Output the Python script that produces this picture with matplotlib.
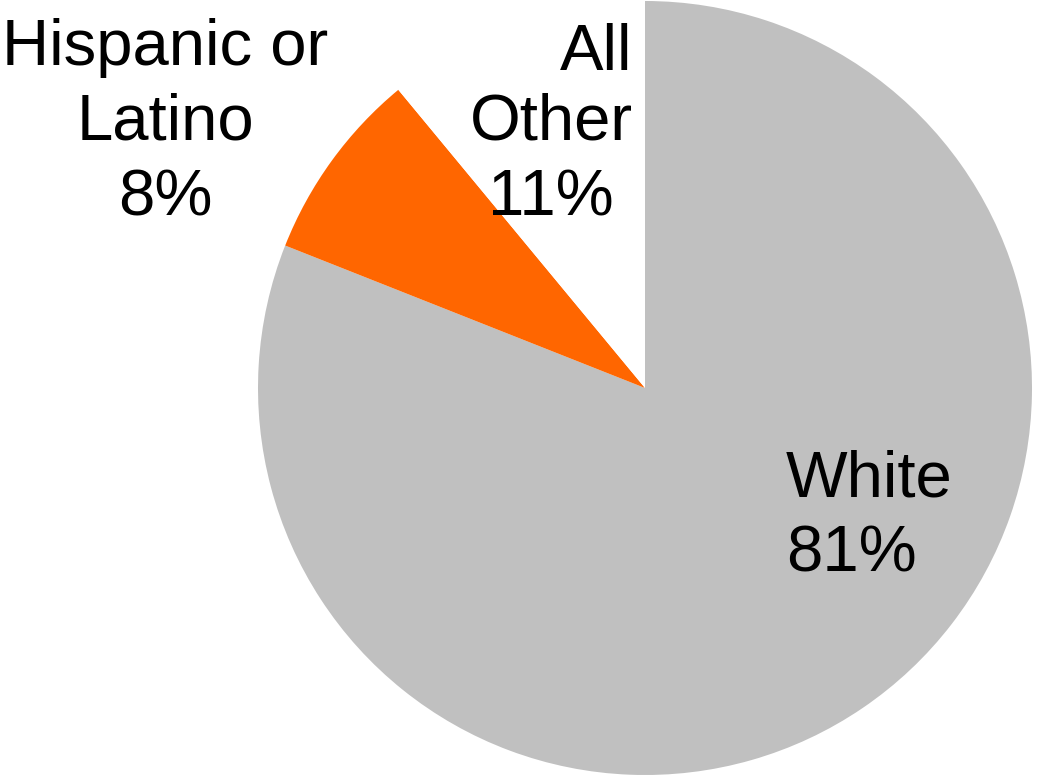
import matplotlib
matplotlib.use("Agg")
from matplotlib import pyplot as plt

groups = ["White", "Hispanic or Latino", "All Other"]
shares = [81, 8, 11]
colors = ["#C0C0C0", "#FF6600", "#FFFFFF"]

plt.rcParams['font.family'] = ['Liberation Sans', 'DejaVu Sans']

fig = plt.figure(figsize=(10.38, 7.8), dpi=100)
ax = fig.add_axes([0, 0, 1, 1])
ax.pie(shares, colors=colors, startangle=90, counterclock=False,
       radius=1, wedgeprops=dict(linewidth=0))

# pie center at pixel (645, 388), radius 387 px
r = 387.0
cx, cy = 645.0, 388.0
ax.set_xlim(-cx / r, (1038 - cx) / r)
ax.set_ylim(-(780 - cy) / r, cy / r)
ax.set_aspect('auto')
ax.axis('off')


def px(x, y):
    return (x - cx) / r, (cy - y) / r


fs = 47
ls = 1.32
# y positions are the baseline of the last line
x, y = px(786, 572)
ax.text(x, y, "White\n%d%%" % shares[0], fontsize=fs, ha='left',
        va='baseline', multialignment='left', linespacing=ls)
x, y = px(165, 215)
ax.text(x, y, "Hispanic or\nLatino\n%d%%" % shares[1], fontsize=fs,
        ha='center', va='baseline', multialignment='center', linespacing=ls)
x, y = px(632, 70)
ax.text(x, y, "All", fontsize=fs, ha='right', va='baseline')
x, y = px(551, 215)
ax.text(x, y, "Other\n%d%%" % shares[2], fontsize=fs, ha='center',
        va='baseline', multialignment='center', linespacing=ls)

fig.savefig("out.png", dpi=100)
